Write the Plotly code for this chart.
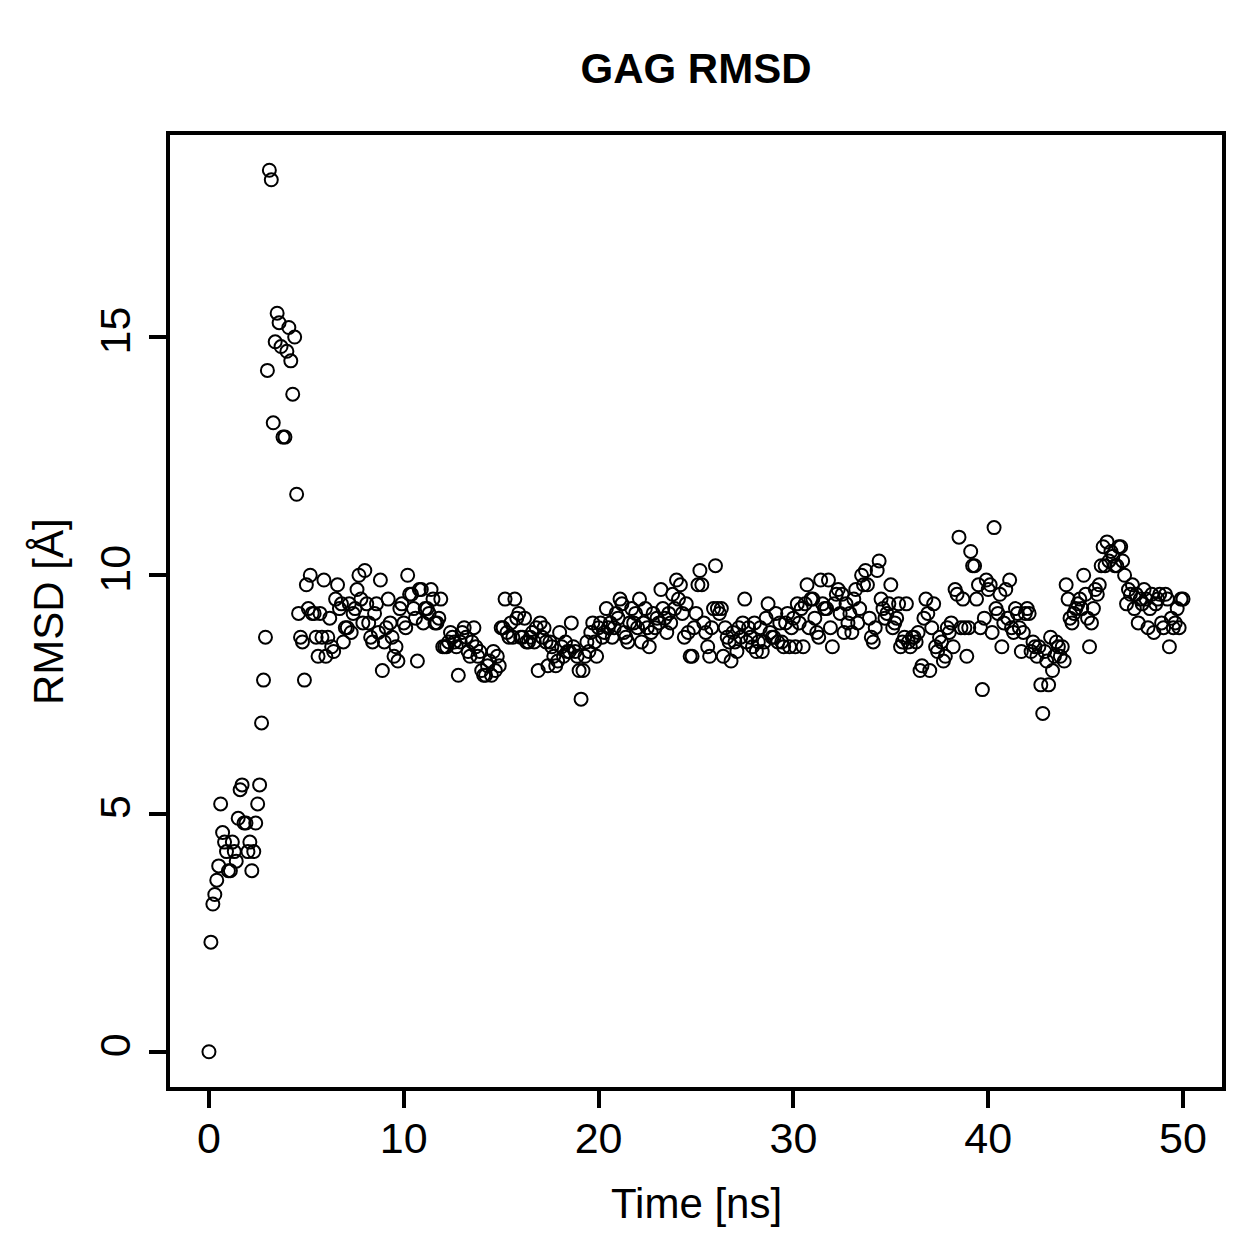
import plotly.graph_objects as go

# RMSD values, 0.1 ns steps from t = 0.0 to 50.0
rmsd_0_5 = [  # t 0.0 - 4.9
    0.0, 2.3, 3.1, 3.3, 3.6, 3.9, 5.2, 4.6, 4.4, 4.2,
    3.8, 3.8, 4.4, 4.2, 4.0, 4.9, 5.5, 5.6, 4.8, 4.8,
    4.2, 4.4, 3.8, 4.2, 4.8, 5.2, 5.6, 6.9, 7.8, 8.7,
    14.3, 18.5, 18.3, 13.2, 14.9, 15.5, 15.3, 14.8, 12.9, 12.9,
    14.7, 15.2, 14.5, 13.8, 15.0, 11.7, 9.2, 8.7, 8.6, 7.8,
]
rmsd_5_20 = [  # t 5.0 - 19.9
    9.8, 9.3, 10.0, 9.2, 9.2, 8.7, 8.3, 9.2, 8.7, 9.9,
    8.3, 8.7, 9.1, 8.5, 8.4, 9.5, 9.8, 9.3, 9.4, 8.6,
    8.9, 8.9, 9.4, 8.8, 9.2, 9.3, 9.7, 10.0, 9.5, 9.0,
    10.1, 9.4, 9.0, 8.7, 8.6, 9.2, 9.4, 8.8, 9.9, 8.0,
    8.6, 8.9, 9.5, 9.0, 8.7, 8.3, 8.5, 8.2, 9.3, 9.4,
    9.0, 8.9, 10.0, 9.6, 9.6, 9.3, 9.1, 8.2, 9.7, 9.7,
    9.0, 9.3, 9.3, 9.2, 9.7, 9.5, 9.0, 9.0, 9.1, 9.5,
    8.5, 8.5, 8.5, 8.6, 8.8, 8.7, 8.6, 8.5, 7.9, 8.6,
    8.8, 8.9, 8.7, 8.4, 8.3, 8.6, 8.9, 8.5, 8.3, 8.4,
    8.0, 7.9, 7.9, 8.1, 8.2, 7.9, 8.4, 8.0, 8.3, 8.1,
    8.9, 8.9, 9.5, 8.8, 8.7, 9.0, 8.7, 9.5, 9.1, 9.2,
    8.7, 8.7, 9.1, 8.6, 8.6, 8.7, 8.8, 8.6, 8.9, 8.0,
    9.0, 8.7, 8.9, 8.6, 8.1, 8.6, 8.5, 8.3, 8.1, 8.2,
    8.8, 8.5, 8.3, 8.6, 8.4, 8.4, 9.0, 8.5, 8.4, 8.3,
    8.0, 7.4, 8.0, 8.3, 8.6, 8.4, 8.8, 9.0, 8.6, 8.3,
]
rmsd_20_32 = [  # t 20.0 - 31.9
    8.9, 9.0, 8.7, 8.8, 9.3, 8.9, 9.0, 8.7, 8.9, 9.2, 9.1, 9.5,
    9.4, 8.8, 8.7, 8.6, 9.0, 9.3, 9.0, 9.2, 8.9, 9.5,
    8.6, 9.0, 9.3, 8.9, 8.5, 8.8, 9.2, 8.9, 9.1, 9.0, 9.7, 9.3,
    9.1, 8.8, 9.2, 9.0, 9.6, 9.3, 9.9, 9.5, 9.8, 9.2,
    8.7, 9.4, 8.8, 8.3, 8.3, 8.9, 9.2, 9.8, 10.1, 9.8,
    9.0, 8.8, 8.5, 8.3, 8.9, 9.3, 10.2, 9.3, 9.2, 9.3,
    8.3, 8.9, 8.7, 8.6, 8.2, 8.8, 8.6, 8.4, 8.9, 8.7,
    9.0, 9.5, 8.6, 8.9, 8.7, 8.5, 9.0, 8.4, 8.6, 8.9,
    8.4, 8.6, 9.1, 9.4, 8.8, 8.7, 8.7, 9.2, 8.6, 9.0,
    8.6, 8.5, 9.0, 9.2, 8.5, 8.9, 9.1, 8.5, 9.4, 9.0,
    9.3, 8.5, 9.4, 9.8, 8.9, 9.5, 9.5, 9.1, 8.8, 8.7,
    9.9, 9.4, 9.3, 9.3, 9.9, 8.9, 8.5, 9.4, 9.6, 9.7,
]
rmsd_32_43 = [  # t 32.0 - 42.9
    9.2, 9.6, 8.8, 9.4, 9.0, 9.2, 8.8, 9.5, 9.7, 9.0, 9.3, 10.0, 9.8,
    10.1, 9.8, 9.1, 8.7, 8.6, 8.9, 10.1, 10.3, 9.5, 9.3, 9.1,
    9.2, 9.4, 9.8, 8.9, 9.0, 9.1, 9.4, 8.5, 8.6, 8.7,
    9.4, 8.6, 8.5, 8.7, 8.7, 8.6, 8.8, 8.0, 8.1, 9.1,
    9.5, 9.2, 8.0, 8.9, 9.4, 8.5, 8.4, 8.7, 8.6, 8.2,
    8.3, 8.9, 8.8, 9.0, 8.5, 9.7, 9.6, 10.8, 8.9, 9.5,
    8.9, 8.3, 8.9, 10.5, 10.2, 10.2, 9.5, 9.8, 8.9, 7.6,
    9.1, 9.9, 9.7, 9.8, 8.8, 11.0, 9.3, 9.2, 9.6, 8.5,
    9.0, 9.7, 9.1, 9.9, 8.9, 8.8, 9.3, 9.2, 8.9, 8.4,
    8.8, 9.2, 9.3, 9.2, 8.4, 8.6, 8.5, 8.3, 8.5, 7.7, 7.1, 8.4,
]
rmsd_43_50 = [  # t 43.0 - 50.0
    8.2, 7.7, 8.7, 8.0, 8.3, 8.6, 8.5, 8.3, 8.5, 8.2,
    9.8, 9.5, 9.1, 9.0, 9.2, 9.3, 9.4, 9.5, 9.3, 10.0,
    9.6, 9.1, 8.5, 9.0, 9.3, 9.7, 9.6, 9.8, 10.2, 10.6,
    10.2, 10.7, 10.3, 10.5, 10.4, 10.2, 10.2, 10.6, 10.6, 10.3,
    10.0, 9.4, 9.7, 9.6, 9.8, 9.3, 9.6, 9.0, 9.5, 9.4,
    9.7, 9.5, 8.9, 9.3, 9.6, 8.8, 9.4, 9.5, 9.6, 9.0,
    8.9, 9.6, 9.5, 8.5, 9.1, 8.9, 9.0, 9.3, 8.9, 9.5,
    9.5,
]
rmsd = rmsd_0_5 + rmsd_5_20 + rmsd_20_32 + rmsd_32_43 + rmsd_43_50
time_ns = [i / 10 for i in range(len(rmsd))]

x_ticks = [0, 10, 20, 30, 40, 50]
y_ticks = [0, 5, 10, 15]

FONT = "Liberation Sans, Arial, Helvetica, sans-serif"

fig = go.Figure(go.Scatter(
    x=time_ns, y=rmsd, mode="markers",
    marker=dict(symbol="circle-open", size=13, color="black",
                line=dict(width=2, color="black")),
    hoverinfo="x+y",
))

axis_common = dict(
    showline=True, linewidth=3.5, linecolor="black", mirror=True,
    ticks="outside", ticklen=17, tickwidth=3.5, tickcolor="black",
    showgrid=False, zeroline=False,
    tickfont=dict(family=FONT, size=43, color="black"),
)

fig.update_layout(
    width=1259, height=1259,
    margin=dict(l=170, r=37, t=135, b=172),
    paper_bgcolor="white", plot_bgcolor="white",
    showlegend=False,
    title=dict(text="<b>GAG RMSD</b>", x=696 / 1259, xanchor="center",
               y=1 - 68 / 1259, yanchor="middle", yref="container",
               font=dict(family=FONT, size=42, color="black")),
    xaxis=dict(range=[-2, 52], tickvals=x_ticks,
               ticktext=[str(v) for v in x_ticks], ticklabelstandoff=-6,
               **axis_common),
    yaxis=dict(range=[-0.74, 19.24], tickvals=y_ticks,
               ticktext=[str(v) for v in y_ticks], tickangle=-90,
               ticklabelstandoff=2, **axis_common),
    annotations=[
        dict(text="Time [ns]", xref="paper", yref="paper",
             x=0.5, y=(1087 - 1203) / 952, xanchor="center", yanchor="middle",
             showarrow=False, font=dict(family=FONT, size=42, color="black")),
        dict(text="RMSD [Å]", xref="paper", yref="paper",
             x=(48 - 170) / 1052, y=(1087 - 612) / 952, xanchor="center",
             yanchor="middle", textangle=-90, showarrow=False,
             font=dict(family=FONT, size=42, color="black")),
    ],
)

fig.write_html("out.html")
